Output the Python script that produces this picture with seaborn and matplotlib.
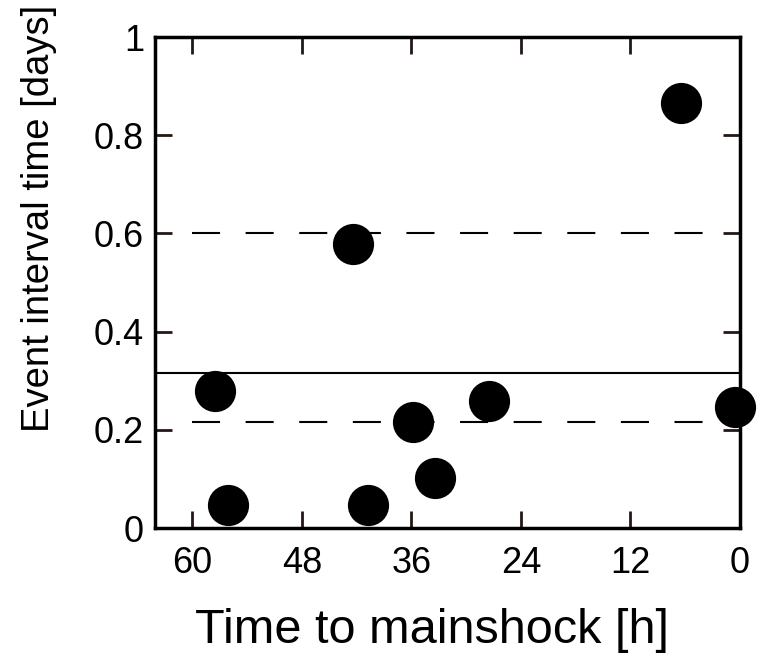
import matplotlib
matplotlib.use("Agg")
import matplotlib.pyplot as plt
import seaborn as sns
import pandas as pd

# Foreshock events: hours before the mainshock and interval to the next event
hours_to_mainshock = [6.5, 42.4, 57.5, 56.1, 40.8, 35.8, 33.4, 27.5, 0.5]
interval_days = [0.866, 0.578, 0.279, 0.047, 0.047, 0.216, 0.102, 0.259, 0.246]

# Reference levels
mean_interval = 0.316
dashed_levels = [0.60, 0.216]

x_ticks = [60, 48, 36, 24, 12, 0]
y_ticks = [0, 0.2, 0.4, 0.6, 0.8, 1]
y_tick_labels = ["0", "0.2", "0.4", "0.6", "0.8", "1"]

sns.set_theme(style="ticks")
plt.rcParams["font.family"] = ["Liberation Sans", "DejaVu Sans"]
plt.rcParams["lines.scale_dashes"] = False

df = pd.DataFrame({"hours": hours_to_mainshock, "interval": interval_days})

fig = plt.figure(figsize=(7.57, 6.53), dpi=100)
ax = fig.add_axes([0.2048, 0.1914, 0.9775 - 0.2048, 0.9433 - 0.1914])

for lvl in dashed_levels:
    ax.hlines(lvl, 60.1, 4.1, colors="black", linewidth=1.5,
              linestyles=[(0, (20.2, 18.4))], zorder=2)
ax.axhline(mean_interval, color="black", linewidth=1.5, zorder=2)

sns.scatterplot(data=df, x="hours", y="interval", ax=ax, s=880,
                color="black", edgecolor="black", linewidth=0,
                clip_on=False, zorder=3, legend=False)

ax.set_xlim(64.1, 0)
ax.set_ylim(0, 1)
ax.set_xticks(x_ticks)
ax.set_xticklabels([str(t) for t in x_ticks])
ax.set_yticks(y_ticks)
ax.set_yticklabels(y_tick_labels)

for side in ["left", "right", "top", "bottom"]:
    ax.spines[side].set_visible(True)
    ax.spines[side].set_linewidth(2.5)
    ax.spines[side].set_color("black")

ax.tick_params(axis="both", which="major", direction="in", length=12.5,
               width=2.0, color="#231815", labelsize=26,
               top=True, right=True, labelcolor="black")
ax.tick_params(axis="x", pad=13)
ax.tick_params(axis="y", pad=8)

ax.set_xlabel("Time to mainshock [h]", fontsize=35, color="black")
ax.set_ylabel("Event interval time [days]", fontsize=27.5, color="black")
ax.xaxis.set_label_coords(0.474, -0.163)
ax.yaxis.set_label_coords(-0.168, 0.631)

fig.savefig("out.png", dpi=100)
